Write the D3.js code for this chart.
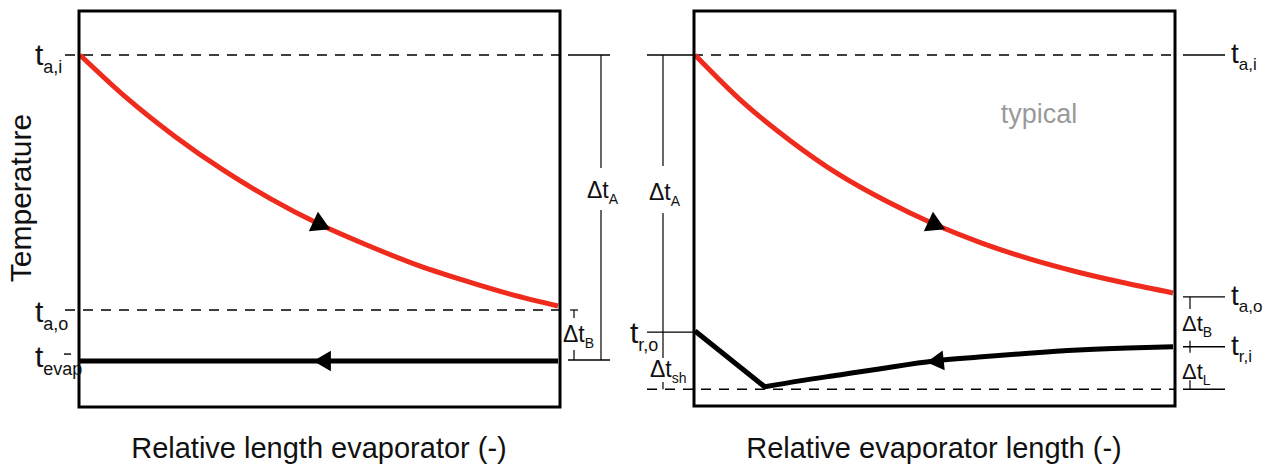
<!DOCTYPE html>
<html>
<head>
<meta charset="utf-8">
<script src="https://cdn.jsdelivr.net/npm/d3@7"></script>
<style>
  html, body { margin: 0; padding: 0; background: #fff; }
  svg { display: block; font-family: "Liberation Sans", Arial, sans-serif; }
</style>
</head>
<body>
<svg id="chart" width="1267" height="466"></svg>
<script>
"use strict";

// relative position along the evaporator (0 = inlet of air, 1 = outlet)
const relLength = [0, 0.1, 0.2, 0.3, 0.4, 0.5, 0.6, 0.7, 0.8, 0.9, 1];

// left panel: air temperature and evaporation temperature
const airTempLeft = [88.9, 77.8, 68.2, 59.8, 52.5, 46.2, 40.9, 36.1, 32.1, 28.5, 25.5];
const evapLengthLeft = [0, 1];
const evapTempLeft = [11.6, 11.6];

// right panel ("typical"): air and refrigerant
const airTempRight = [88.9, 77.0, 67.2, 58.8, 52.0, 46.2, 41.4, 37.4, 34.1, 31.3, 28.8];
const refLengthRight = [0, 0.146, 0.219, 0.302, 0.385, 0.5, 0.594, 0.698, 0.802, 0.906, 1];
const refTempRight = [19.2, 5.1, 6.6, 8.1, 9.6, 11.6, 12.6, 13.6, 14.4, 14.9, 15.2];

// temperature levels marked on the axes
const levelsLeft = [88.9, 24.5, 11.6];          // t_a,i  t_a,o  t_evap
const levelsRight = [88.9, 27.8, 15.2, 18.9, 4.5]; // t_a,i  t_a,o  t_r,i  t_r,o  lowest

const xTitles = ["Relative length evaporator (-)", "Relative evaporator length (-)"];
const yTitle = "Temperature";

const RED = "#ee2b1c";
const FONT = 30, SUB = 18, DFONT = 23, DSUB = 14;

const svg = d3.select("#chart");

const yScale = d3.scaleLinear().domain([0, 100]).range([407, 11]);
const xLeft = d3.scaleLinear().domain([0, 1]).range([80, 558]);
const xRight = d3.scaleLinear().domain([0, 1]).range([695, 1173]);

const lineGen = (xs) => d3.line()
    .x(d => xs(d[0]))
    .y(d => yScale(d[1]))
    .curve(d3.curveMonotoneX);

function hline(x1, x2, y, dashed, width) {
    svg.append("line")
        .attr("x1", x1).attr("x2", x2).attr("y1", y).attr("y2", y)
        .attr("stroke", "#000")
        .attr("stroke-width", width || 1.4)
        .attr("stroke-dasharray", dashed ? "10,8" : null);
}
function vline(x, y1, y2, width, color) {
    svg.append("line")
        .attr("x1", x).attr("x2", x).attr("y1", y1).attr("y2", y2)
        .attr("stroke", color || "#000")
        .attr("stroke-width", width || 1.2);
}
function label(x, y, main, sub, size, subSize, fill) {
    const t = svg.append("text")
        .attr("x", x).attr("y", y)
        .attr("font-size", size)
        .attr("fill", fill || "#111");
    t.append("tspan").text(main);
    if (sub) {
        t.append("tspan")
            .attr("font-size", subSize)
            .attr("dy", subSize * 0.42)
            .text(sub);
    }
    return t;
}
function arrow(x, y, rot, size, color) {
    svg.append("path")
        .attr("d", d3.symbol(d3.symbolTriangle, size)())
        .attr("transform", `translate(${x},${y}) rotate(${rot})`)
        .attr("fill", color || "#000");
}

// ---------- left panel ----------
const [taiL, taoL, tevL] = levelsLeft.map(yScale);

hline(65, xLeft(1) + 2, taiL, true);
hline(65, xLeft(1) + 2, taoL, true);
hline(64, 71, tevL - 7, false);

svg.append("path")
    .attr("d", lineGen(xLeft)(relLength.map((d, i) => [d, airTempLeft[i]])))
    .attr("fill", "none").attr("stroke", RED).attr("stroke-width", 5);

svg.append("path")
    .attr("d", d3.line().x(d => xLeft(d[0])).y(d => yScale(d[1]))(evapLengthLeft.map((d, i) => [d, evapTempLeft[i]])))
    .attr("fill", "none").attr("stroke", "#000").attr("stroke-width", 5);

arrow(xLeft(relLength[5]), yScale(airTempLeft[5]), -5, 200);
arrow(xLeft(0.5) + 6, yScale(evapTempLeft[0]), -90, 180);

svg.append("rect")
    .attr("x", xLeft(0) - 1).attr("y", yScale(100))
    .attr("width", xLeft(1) - xLeft(0) + 3).attr("height", yScale(0) - yScale(100))
    .attr("fill", "none").attr("stroke", "#000").attr("stroke-width", 3);

label(35, taiL + 10, "t", "a,i", FONT, SUB);
label(35, taoL + 12, "t", "a,o", FONT, SUB);
label(35, tevL + 6, "t", "evap", FONT, SUB);

// dimension lines right of left panel
const dimXL = xLeft(1) + 43;
hline(xLeft(1) + 10, xLeft(1) + 52, taiL, false);
hline(xLeft(1) + 10, xLeft(1) + 52, tevL - 1, false);
vline(dimXL, taiL, 168);
vline(dimXL, 210, tevL - 1);
label(587, 198, "\u0394t", "A", DFONT, DSUB);

const smallXL = xLeft(1) + 16;
hline(smallXL - 4, smallXL + 4, taoL, false, 1.2);
vline(smallXL, taoL, taoL + 8);
vline(smallXL, tevL - 11, tevL - 1);
label(563, 342, "\u0394t", "B", DFONT, DSUB);

// ---------- right panel ----------
const [taiR, taoR, triR, troR, tlowR] = levelsRight.map(yScale);
const frameL = xRight(0) - 2, frameR = xRight(1) + 2;

hline(frameL, frameR, taiR, true);
hline(647, frameL, taiR, false);
hline(647, frameR, tlowR, true);
hline(647, frameL, troR, false);

svg.append("path")
    .attr("d", lineGen(xRight)(relLength.map((d, i) => [d, airTempRight[i]])))
    .attr("fill", "none").attr("stroke", RED).attr("stroke-width", 5);

// refrigerant: straight superheat leg, then smooth evaporation curve
const refPts = refLengthRight.map((d, i) => [d, refTempRight[i]]);
const refCurve = lineGen(xRight)(refPts.slice(1));
svg.append("path")
    .attr("d", `M${xRight(refPts[0][0])},${yScale(refPts[0][1])}L` + refCurve.slice(1))
    .attr("fill", "none").attr("stroke", "#000").attr("stroke-width", 5)
    .attr("stroke-linejoin", "miter");

arrow(xRight(relLength[5]), yScale(airTempRight[5]), -5, 200);
arrow(xRight(refLengthRight[5]) + 4, yScale(refTempRight[5]), -96, 170);

svg.append("rect")
    .attr("x", frameL + 1).attr("y", yScale(100))
    .attr("width", frameR - frameL - 1).attr("height", yScale(0) - yScale(100) - 1)
    .attr("fill", "none").attr("stroke", "#000").attr("stroke-width", 3);

// left dimension line of right panel
const dimXR = 663;
vline(dimXR, taiR, 166);
vline(dimXR, 213, 358);
vline(dimXR, 382, tlowR);
label(649, 200, "\u0394t", "A", DFONT, DSUB);
label(630, troR + 11, "t", "r,o", FONT, SUB);
label(650, 377, "\u0394t", "sh", DFONT, DSUB);

// right-hand scale of right panel
const tickX1 = frameR + 8, tickX2 = frameR + 50, smallXR = frameR + 15;
[taiR, taoR, triR, tlowR].forEach(y => hline(tickX1, tickX2, y, false));
vline(smallXR, taoR, taoR + 12);
vline(smallXR, triR - 6, triR + 6);
vline(smallXR, tlowR - 9, tlowR);
label(1231, taiR + 8, "t", "a,i", 28, 17);
label(1231, taoR + 8, "t", "a,o", 28, 17);
label(1231, triR + 8, "t", "r,i", 28, 17);
label(1182, 331, "\u0394t", "B", 22, 14);
label(1182, 379, "\u0394t", "L", 22, 14);

svg.append("text")
    .attr("x", 1039).attr("y", 123)
    .attr("text-anchor", "middle")
    .attr("font-size", 27)
    .attr("fill", "#9a9a9a")
    .text("typical");

// ---------- axis titles ----------
svg.selectAll(".xtitle")
    .data(xTitles)
    .join("text")
    .attr("class", "xtitle")
    .attr("x", (d, i) => i === 0 ? (xLeft(0) + xLeft(1)) / 2 : (xRight(0) + xRight(1)) / 2)
    .attr("y", 458)
    .attr("text-anchor", "middle")
    .attr("font-size", 29)
    .attr("fill", "#111")
    .text(d => d);

svg.append("text")
    .attr("transform", `translate(31,${(yScale(100) + yScale(0)) / 2 - 11}) rotate(-90)`)
    .attr("text-anchor", "middle")
    .attr("font-size", 30)
    .attr("fill", "#111")
    .text(yTitle);
</script>
</body>
</html>
